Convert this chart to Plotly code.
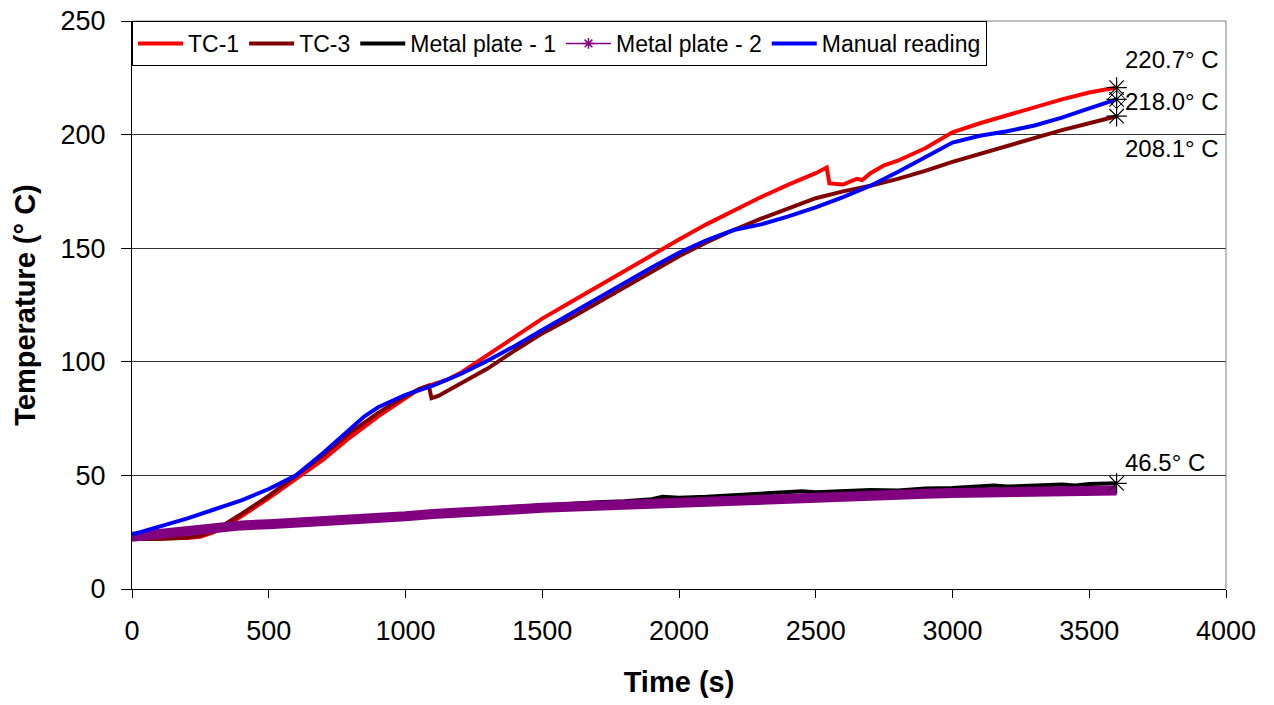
import plotly.graph_objects as go

# ---- data ----
tc1_t = [0, 100, 200, 250, 300, 350, 400, 500, 600, 700, 800, 900, 1000, 1050, 1100, 1150, 1200,
         1300, 1400, 1500, 1600, 1700, 1800, 1900, 2000, 2100, 2200, 2300, 2400, 2500, 2540,
         2550, 2600, 2630, 2650, 2670, 2700, 2750, 2800, 2900, 3000, 3100, 3200, 3300, 3400,
         3500, 3600]
tc1_v = [22.5, 22.3, 22.5, 23, 25, 28.5, 32, 40, 48.5, 57, 67, 76, 84, 88, 90, 92, 95,
         103, 111, 119, 126, 133, 140, 147, 153.8, 160.5, 166.5, 172.5, 178, 183, 185.5,
         178.5, 178, 179.5, 180.5, 180, 183, 186.5, 188.5, 194, 201, 205, 208.5, 212, 215.5,
         218.5, 220.7]

tc3_t = [0, 100, 200, 250, 300, 350, 400, 500, 600, 700, 800, 900, 1000, 1050, 1085, 1095,
         1120, 1150, 1200, 1300, 1400, 1500, 1600, 1700, 1800, 1900, 2000, 2100, 2200, 2300,
         2400, 2500, 2600, 2700, 2800, 2900, 3000, 3100, 3200, 3300, 3400, 3500, 3600]
tc3_v = [22, 22, 22.5, 23.5, 25.5, 29, 33, 41, 50, 59, 69, 77.5, 85, 88, 89.5, 84,
         85, 87, 90, 97, 105, 112.5, 119, 126, 133, 139.5, 146.5, 152.5, 158, 163,
         167.5, 172, 175, 177.5, 180.5, 184, 188, 191.5, 195, 198.5, 202, 205, 208.1]

mp1_t = [0, 100, 200, 300, 400, 500, 600, 700, 800, 900, 1000, 1100, 1200, 1300, 1400, 1500,
         1600, 1700, 1800, 1900, 1940, 2000, 2100, 2200, 2300, 2400, 2450, 2500, 2600, 2700,
         2800, 2900, 3000, 3100, 3150, 3200, 3300, 3400, 3450, 3500, 3600]
mp1_v = [22.5, 24.5, 26.3, 27.3, 28, 28.7, 29.3, 30.2, 31, 31.8, 32.5, 33.5, 34.5, 35.3, 36.2, 36.8,
         37.6, 38.2, 38.6, 39.5, 40.6, 40.2, 40.6, 41.3, 41.7, 42.4, 43, 42.6, 43, 43.6,
         43.4, 44.2, 44.4, 45, 45.6, 45.1, 45.6, 46, 45.6, 46.2, 46.5]

mp2_t = [0, 100, 200, 300, 400, 500, 600, 700, 800, 900, 1000, 1100, 1200, 1300, 1400, 1500,
         1600, 1700, 1800, 1900, 2000, 2100, 2200, 2300, 2400, 2500, 2600, 2700, 2800, 2900,
         3000, 3100, 3200, 3300, 3400, 3500, 3600]
mp2_v = [23, 24.5, 26, 27, 28, 28.5, 29, 30, 30.5, 31.5, 32, 33, 34, 34.5, 35, 35.8,
         36.3, 36.8, 37.3, 38, 38.5, 39, 39.5, 40, 40.3, 40.7, 41, 41.3, 41.6, 41.9,
         42.2, 42.5, 42.7, 42.9, 43.1, 43.3, 43.4]

man_t = [0, 100, 200, 300, 400, 500, 600, 700, 800, 850, 900, 1000, 1100, 1200, 1300, 1400,
         1500, 1600, 1700, 1800, 1900, 2000, 2100, 2200, 2300, 2400, 2500, 2600, 2700, 2800,
         2900, 3000, 3100, 3200, 3300, 3400, 3500, 3600]
man_v = [24, 27.5, 31, 35, 39, 44, 50, 60, 71, 76, 80, 85.5, 89.5, 94.5, 100.5, 107,
         114, 121, 128, 135, 141.5, 148, 153.5, 158, 160.5, 164, 168, 172.5, 177.5, 183.5,
         190, 196.5, 199.5, 201.5, 204, 207.5, 211.5, 215.5]

end_labels = ["220.7° C", "218.0° C", "208.1° C", "46.5° C"]
label_shift = [28, -2, -32, 21]

x_ticks = [0, 500, 1000, 1500, 2000, 2500, 3000, 3500, 4000]
y_ticks = [0, 50, 100, 150, 200, 250]

FONT = "Liberation Sans, Arial, sans-serif"

fig = go.Figure()
fig.add_trace(go.Scatter(x=tc1_t, y=tc1_v, mode="lines", name="TC-1",
                         line=dict(color="#ff0000", width=4)))
fig.add_trace(go.Scatter(x=tc3_t, y=tc3_v, mode="lines", name="TC-3",
                         line=dict(color="#800000", width=4)))
fig.add_trace(go.Scatter(x=mp1_t, y=mp1_v, mode="lines", name="Metal plate - 1",
                         line=dict(color="#000000", width=4)))
fig.add_trace(go.Scatter(x=mp2_t, y=mp2_v, mode="lines", name="Metal plate - 2",
                         showlegend=False, line=dict(color="#800080", width=10)))
fig.add_trace(go.Scatter(x=[None], y=[None], mode="lines+markers", name="Metal plate - 2",
                         line=dict(color="#800080", width=1.5),
                         marker=dict(symbol="asterisk-open", size=9, color="#800080",
                                     line=dict(color="#800080", width=1.5))))
fig.add_trace(go.Scatter(x=man_t, y=man_v, mode="lines", name="Manual reading",
                         line=dict(color="#0000ff", width=4)))

# end markers
end_x = [tc1_t[-1], man_t[-1], tc3_t[-1], mp1_t[-1]]
end_y = [tc1_v[-1], man_v[-1], tc3_v[-1], mp1_v[-1]]
fig.add_trace(go.Scatter(x=end_x, y=end_y, mode="markers", showlegend=False,
                         marker=dict(symbol="asterisk-open", size=17, color="black",
                                     line=dict(color="black", width=1.2))))
fig.add_trace(go.Scatter(x=[man_t[-1]], y=[man_v[-1]], mode="markers", showlegend=False,
                         marker=dict(symbol="diamond-open", size=14, color="black",
                                     line=dict(color="black", width=1))))

for xx, yy, txt, sh in zip(end_x, end_y, end_labels, label_shift):
    fig.add_annotation(x=xx, y=yy, text=txt, showarrow=False, xanchor="left",
                       yanchor="middle", xshift=6, yshift=sh,
                       font=dict(family=FONT, size=24, color="black"))

fig.update_layout(
    width=1274, height=705,
    margin=dict(l=132, r=48, t=21, b=116, autoexpand=False),
    paper_bgcolor="white", plot_bgcolor="white",
    font=dict(family=FONT, color="black"),
    showlegend=True,
    legend=dict(orientation="h", x=0, y=1, xanchor="left", yanchor="top",
                bgcolor="white", bordercolor="black", borderwidth=1,
                font=dict(family=FONT, size=23, color="black"),
                itemwidth=45, tracegroupgap=0),
    shapes=[
        dict(type="line", xref="paper", yref="paper", x0=0, x1=1, y0=1, y1=1,
             line=dict(color="#808080", width=1), layer="above"),
        dict(type="line", xref="paper", yref="paper", x0=1, x1=1, y0=0, y1=1,
             line=dict(color="#808080", width=1), layer="above"),
    ],
)
fig.update_xaxes(range=[0, 4000], tickvals=x_ticks, ticktext=[str(v) for v in x_ticks],
                 automargin=False, ticklabeloverflow="allow",
                 showgrid=False, zeroline=False, showline=True, linecolor="black", linewidth=1,
                 ticks="outside", ticklen=8, tickcolor="black", ticklabelstandoff=10,
                 tickfont=dict(family=FONT, size=27, color="black"),
                 title=dict(text="<b>Time (s)</b>", font=dict(family=FONT, size=29, color="black"),
                            standoff=26))
fig.update_yaxes(range=[0, 250], tickvals=y_ticks, ticktext=[str(v) for v in y_ticks],
                 automargin=False, ticklabeloverflow="allow",
                 showgrid=True, gridcolor="#333333", gridwidth=1,
                 zeroline=False, showline=True, linecolor="black", linewidth=1,
                 ticks="outside", ticklen=10, tickcolor="black", ticklabelstandoff=10,
                 tickfont=dict(family=FONT, size=27, color="black"),
                 title=dict(text="<b>Temperature (° C)</b>",
                            font=dict(family=FONT, size=29, color="black"), standoff=16))

# remove the default 8px page margin so the figure fills the window exactly
fig.write_html("out.html", config={"displayModeBar": False},
               post_script="document.body.style.margin='0';document.body.style.overflow='hidden';")
